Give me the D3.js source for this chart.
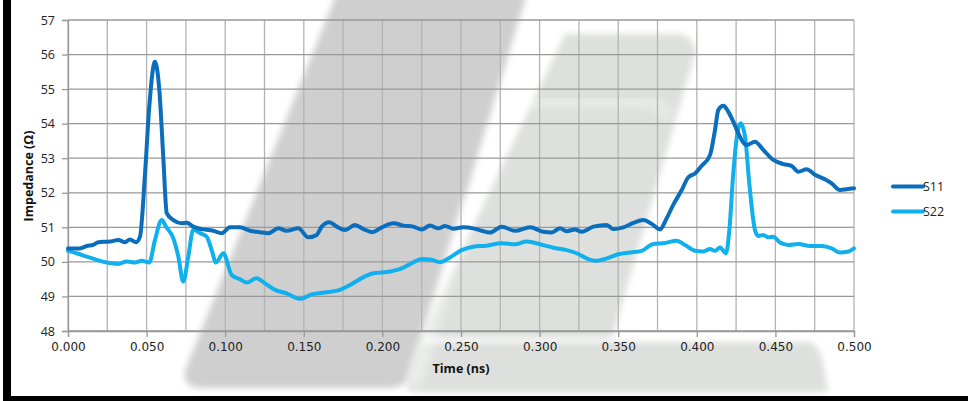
<!DOCTYPE html>
<html><head><meta charset="utf-8">
<script src="https://cdn.jsdelivr.net/npm/d3@7"></script>
<style>body{margin:0;background:#fff;} svg{display:block;}</style>
</head><body>
<svg id="chart" width="968" height="401"></svg>
<script>
// ---- data ----
const s11Time = [0,0.0076,0.0119,0.016,0.0193,0.0267,0.032,0.0363,0.0394,0.0433,0.0458,0.049,0.0517,0.0553,0.0581,0.0606,0.0628,0.067,0.0723,0.0755,0.0797,0.086,0.0924,0.0977,0.103,0.1094,0.1158,0.122,0.1274,0.1338,0.139,0.1465,0.1529,0.1582,0.1614,0.1662,0.171,0.1762,0.1826,0.1879,0.1938,0.1996,0.207,0.2133,0.2197,0.225,0.2303,0.2356,0.2398,0.2451,0.2515,0.2578,0.2632,0.2684,0.2759,0.2844,0.2939,0.3023,0.3077,0.313,0.3172,0.3225,0.3268,0.3342,0.3427,0.3469,0.3533,0.3597,0.366,0.3713,0.3766,0.3808,0.385,0.3904,0.3946,0.3989,0.4031,0.4084,0.4116,0.4137,0.4169,0.42,0.4232,0.4264,0.4317,0.437,0.4423,0.4487,0.455,0.4603,0.4646,0.4699,0.4752,0.4815,0.4858,0.4911,0.4953,0.5];
const s11Values = [50.39,50.39,50.46,50.49,50.57,50.59,50.63,50.57,50.65,50.57,50.73,52.56,54.49,55.79,54.97,53.04,51.41,51.21,51.12,51.13,51.02,50.94,50.90,50.83,51.00,51.00,50.90,50.86,50.83,50.97,50.90,50.97,50.71,50.78,51.02,51.15,51.02,50.92,51.07,50.95,50.86,51.00,51.12,51.05,51.02,50.94,51.05,50.97,51.04,50.96,51.00,50.97,50.90,50.85,51.02,50.90,51.00,50.87,50.85,50.97,50.89,50.94,50.87,51.02,51.07,50.95,51.00,51.13,51.21,51.10,50.94,51.26,51.65,52.08,52.45,52.56,52.78,53.09,53.82,54.40,54.52,54.35,54.06,53.72,53.38,53.48,53.24,52.95,52.83,52.78,52.61,52.68,52.52,52.39,52.27,52.08,52.10,52.13];
const s22Time = [0,0.0055,0.0119,0.0183,0.0246,0.032,0.0373,0.0426,0.0469,0.0517,0.0553,0.0596,0.0623,0.067,0.0702,0.0733,0.0765,0.0797,0.084,0.0882,0.0914,0.0941,0.0988,0.1041,0.1094,0.1137,0.12,0.1253,0.1317,0.139,0.1476,0.155,0.1646,0.173,0.1794,0.1868,0.1942,0.2048,0.2123,0.2186,0.225,0.2313,0.2366,0.243,0.2504,0.2578,0.2663,0.2759,0.2844,0.2918,0.3003,0.3087,0.3172,0.3236,0.33,0.3352,0.3427,0.3501,0.3575,0.3649,0.3723,0.3787,0.3872,0.3925,0.3989,0.4041,0.4084,0.4116,0.4148,0.4186,0.4207,0.4232,0.4258,0.4279,0.4307,0.4334,0.437,0.4391,0.4423,0.4455,0.4487,0.4529,0.4582,0.4646,0.472,0.4794,0.4858,0.4911,0.4964,0.5];
const s22Values = [50.32,50.25,50.15,50.06,49.98,49.94,50.01,49.98,50.03,49.98,50.63,51.21,51.02,50.68,50.15,49.43,50.15,50.94,50.83,50.73,50.34,49.98,50.25,49.62,49.50,49.40,49.53,49.38,49.19,49.09,48.93,49.06,49.12,49.19,49.33,49.53,49.67,49.72,49.81,49.96,50.08,50.06,49.99,50.13,50.34,50.44,50.47,50.54,50.51,50.59,50.51,50.41,50.34,50.25,50.10,50.03,50.10,50.22,50.27,50.32,50.52,50.54,50.61,50.49,50.32,50.30,50.37,50.32,50.42,50.25,50.92,52.56,53.72,54.01,53.62,52.27,50.92,50.75,50.78,50.71,50.73,50.56,50.49,50.52,50.46,50.46,50.39,50.27,50.30,50.39];
const seriesNames = ["S11", "S22"];
const seriesColors = ["#0a6ebd", "#10b0ee"];
const xTicks = [0,0.05,0.1,0.15,0.2,0.25,0.3,0.35,0.4,0.45,0.5];
const xGrid = d3.range(0, 0.5001, 0.025);
const yTicks = [48,49,50,51,52,53,54,55,56,57];
const xTitle = "Time (ns)";
const yTitle = "Impedance (Ω)";

// ---- layout ----
const svg = d3.select("#chart");
const L = 68, R = 854, T = 20, B = 331;
const x = d3.scaleLinear().domain([0, 0.5]).range([L, R]);
const y = d3.scaleLinear().domain([48, 57]).range([B, T]);

// watermark background
const defs = svg.append("defs");
defs.append("filter").attr("id","blur").attr("x","-20%").attr("y","-20%").attr("width","140%").attr("height","140%")
  .append("feGaussianBlur").attr("stdDeviation", 3);
defs.append("filter").attr("id","blur2").attr("x","-20%").attr("y","-20%").attr("width","140%").attr("height","140%")
  .append("feGaussianBlur").attr("stdDeviation", 6);
const wm = svg.append("g");
wm.append("path").attr("d","M338,-10 L528,-10 L412,372 Q406,388 390,388 L200,388 Q180,386 186,368 Z")
  .attr("fill","#cfcfcf").attr("filter","url(#blur)");
wm.append("path").attr("d","M565,34 L680,34 Q692,36 696,50 L612,338 L420,338 Z")
  .attr("fill","#dde0dc").attr("filter","url(#blur)");
wm.append("path").attr("d","M418,342 L808,342 Q818,344 822,358 L828,392 L412,392 Q404,390 408,372 Z")
  .attr("fill","#dde0dc").attr("filter","url(#blur)");
wm.append("path").attr("d","M500,102 L650,102 Q664,104 668,120")
  .attr("fill","none").attr("stroke","#ffffff").attr("stroke-width",6).attr("opacity",0.7).attr("filter","url(#blur2)");
wm.append("path").attr("d","M470,200 L414,385")
  .attr("fill","none").attr("stroke","#ffffff").attr("stroke-width",8).attr("opacity",0.8).attr("filter","url(#blur2)");

// grid
const g = svg.append("g");
g.selectAll(".vg").data(xGrid).join("line")
  .attr("x1", d => x(d)).attr("x2", d => x(d)).attr("y1", T).attr("y2", B)
  .attr("stroke", "#b4b4b4").attr("stroke-width", 1.3);
g.selectAll(".hg").data(yTicks).join("line")
  .attr("x1", L).attr("x2", R).attr("y1", d => y(d)).attr("y2", d => y(d))
  .attr("stroke", "#999999").attr("stroke-width", 1.3);

// axes
const xAxis = svg.append("g").attr("transform", `translate(0,${B})`)
  .call(d3.axisBottom(x).tickValues(xTicks).tickFormat(d3.format(".3f")).tickSizeOuter(0).tickSize(6).tickPadding(5));
xAxis.select(".domain").attr("stroke", "#999").attr("stroke-width", 1.3);
xAxis.selectAll(".tick line").attr("stroke", "#999").attr("stroke-width", 1.3);
xAxis.selectAll("text").attr("font-family", "DejaVu Sans").attr("font-size", 12).attr("fill", "#222");

const yAxis = svg.append("g").attr("transform", `translate(${L},0)`)
  .call(d3.axisLeft(y).tickValues(yTicks).tickFormat(d3.format("d")).tickSizeOuter(0).tickSize(6).tickPadding(7));
yAxis.select(".domain").attr("stroke", "#999").attr("stroke-width", 1.3);
yAxis.selectAll(".tick line").attr("stroke", "#999").attr("stroke-width", 1.3);
yAxis.selectAll("text").attr("font-family", "Open Sans").attr("font-size", 12.5).attr("fill", "#222");

// titles
svg.append("text").attr("x", 461).attr("y", 373).attr("text-anchor", "middle")
  .attr("font-family", "Open Sans").attr("font-weight", "bold").attr("font-size", 12.5).attr("fill", "#111").text(xTitle);
svg.append("text").attr("transform", "translate(33,176) rotate(-90)").attr("text-anchor", "middle")
  .attr("font-family", "Open Sans").attr("font-weight", "bold").attr("font-size", 12.5).attr("fill", "#111").text(yTitle);

// lines
const line = d3.line().x(d => x(d[0])).y(d => y(d[1])).curve(d3.curveMonotoneX);
const s11 = s11Time.map((t, i) => [t, s11Values[i]]);
const s22 = s22Time.map((t, i) => [t, s22Values[i]]);
[s22, s11].forEach((data, k) => {
  const idx = k === 0 ? 1 : 0;
  svg.append("path").datum(data).attr("d", line).attr("fill", "none")
    .attr("stroke", seriesColors[idx]).attr("stroke-width", 4).attr("stroke-linejoin", "round").attr("stroke-linecap", "round");
});

// legend
const leg = svg.append("g");
seriesNames.forEach((n, i) => {
  const yy = 186.5 + i * 25;
  leg.append("line").attr("x1", 893).attr("x2", 923).attr("y1", yy).attr("y2", yy)
    .attr("stroke", seriesColors[i]).attr("stroke-width", 4).attr("stroke-linecap", "round");
  leg.append("text").attr("x", 923).attr("y", yy + 4.5).attr("font-family", "Open Sans").attr("font-size", 12.5)
    .attr("fill", "#222").text(n);
});

// frame
svg.append("rect").attr("x", 3).attr("y", 0).attr("width", 8).attr("height", 401).attr("fill", "#000");
svg.append("rect").attr("x", 3).attr("y", 396).attr("width", 965).attr("height", 5).attr("fill", "#000");
</script>
</body></html>
